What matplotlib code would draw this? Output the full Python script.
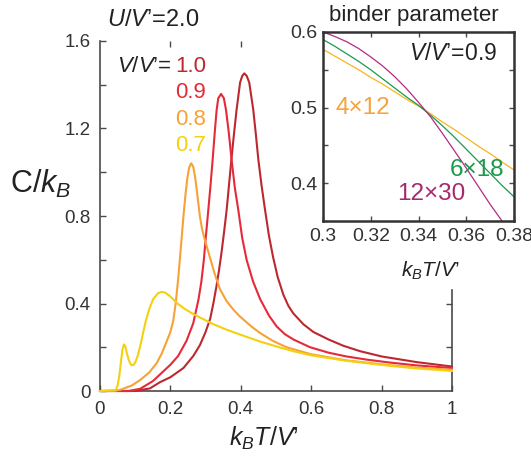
import numpy as np
import matplotlib
matplotlib.use("Agg")
import matplotlib.pyplot as plt

plt.rcParams['font.family'] = 'Liberation Sans'
plt.rcParams['mathtext.fontset'] = 'custom'
plt.rcParams['mathtext.rm'] = 'Liberation Sans'
plt.rcParams['mathtext.it'] = 'Liberation Sans:italic'
plt.rcParams['mathtext.bf'] = 'Liberation Sans:bold'

# specific heat, main panel
T_10 = [0, 0.10, 0.142, 0.17, 0.20, 0.237, 0.265, 0.284, 0.30, 0.313, 0.322, 0.331, 0.338, 0.345,
        0.352, 0.36, 0.367, 0.374, 0.381, 0.388, 0.398, 0.404, 0.41, 0.417, 0.424, 0.4355, 0.443,
        0.45, 0.459, 0.469, 0.48, 0.492, 0.505, 0.521, 0.535, 0.549, 0.578, 0.606, 0.65, 0.691,
        0.739, 0.80, 0.90, 1.0]
C_10 = [0, 0, 0.012, 0.04, 0.063, 0.105, 0.16, 0.21, 0.27, 0.33, 0.40, 0.48, 0.55, 0.63,
        0.72, 0.83, 0.95, 1.07, 1.18, 1.285, 1.41, 1.44, 1.452, 1.44, 1.41, 1.285, 1.17,
        1.056, 0.94, 0.827, 0.71, 0.61, 0.52, 0.44, 0.39, 0.355, 0.305, 0.27, 0.235, 0.207,
        0.182, 0.158, 0.132, 0.112]

T_09 = [0, 0.08, 0.114, 0.15, 0.17, 0.20, 0.222, 0.246, 0.265, 0.28, 0.288, 0.295, 0.301, 0.3077,
        0.314, 0.32, 0.3264, 0.3314, 0.336, 0.344, 0.352, 0.358, 0.366, 0.374, 0.383, 0.393,
        0.404, 0.4167, 0.435, 0.455, 0.48, 0.502, 0.525, 0.55, 0.597, 0.65, 0.70, 0.76, 0.824,
        0.90, 1.0]
C_09 = [0, 0, 0.01, 0.045, 0.075, 0.12, 0.16, 0.23, 0.31, 0.42, 0.50, 0.599, 0.71, 0.827,
        0.94, 1.056, 1.19, 1.285, 1.338, 1.358, 1.338, 1.285, 1.18, 1.056, 0.93, 0.827,
        0.70, 0.599, 0.50, 0.42, 0.345, 0.295, 0.26, 0.235, 0.20, 0.175, 0.158, 0.143, 0.13,
        0.117, 0.105]

T_08 = [0, 0.04, 0.057, 0.09, 0.114, 0.14, 0.161, 0.175, 0.189, 0.20, 0.208, 0.215, 0.222, 0.23,
        0.237, 0.243, 0.248, 0.253, 0.259, 0.265, 0.271, 0.277, 0.284, 0.29, 0.298, 0.308, 0.325,
        0.341, 0.36, 0.38, 0.398, 0.43, 0.455, 0.49, 0.53, 0.60, 0.70, 0.824, 0.90, 1.0]
C_08 = [0, 0, 0.005, 0.025, 0.05, 0.085, 0.127, 0.17, 0.225, 0.27, 0.32, 0.40, 0.51, 0.66,
        0.797, 0.90, 0.97, 1.02, 1.041, 1.025, 0.97, 0.89, 0.797, 0.74, 0.69, 0.635, 0.54,
        0.465, 0.41, 0.37, 0.34, 0.295, 0.265, 0.23, 0.20, 0.168, 0.14, 0.118, 0.107, 0.097]

T_07 = [0, 0.045, 0.05, 0.055, 0.06, 0.064, 0.068, 0.072, 0.076, 0.082, 0.088, 0.094, 0.10, 0.107,
        0.115, 0.123, 0.13, 0.14, 0.151, 0.165, 0.175, 0.185, 0.20, 0.218, 0.24, 0.265, 0.284,
        0.32, 0.36, 0.40, 0.455, 0.511, 0.549, 0.60, 0.70, 0.824, 0.90, 1.0]
C_07 = [0, 0.005, 0.025, 0.07, 0.14, 0.19, 0.213, 0.205, 0.175, 0.14, 0.12, 0.118, 0.13, 0.16,
        0.21, 0.27, 0.32, 0.375, 0.42, 0.447, 0.453, 0.45, 0.432, 0.403, 0.376, 0.352, 0.336,
        0.307, 0.28, 0.257, 0.226, 0.199, 0.182, 0.163, 0.138, 0.115, 0.103, 0.092]

main_series = [(T_10, C_10, '1.0', '#bd2830'),
               (T_09, C_09, '0.9', '#e52a3a'),
               (T_08, C_08, '0.8', '#f6a236'),
               (T_07, C_07, '0.7', '#f5d010')]

# binder parameter, inset
Tb = [0.30, 0.305, 0.31, 0.315, 0.32, 0.325, 0.33, 0.335, 0.34, 0.345, 0.35, 0.355, 0.36,
      0.365, 0.37, 0.375, 0.38]
B_4x12 = [0.577, 0.568, 0.559, 0.550, 0.540, 0.531, 0.521, 0.511, 0.502, 0.492, 0.481, 0.471,
          0.460, 0.449, 0.439, 0.428, 0.4175]
B_6x18 = [0.590, 0.581, 0.571, 0.561, 0.550, 0.538, 0.526, 0.514, 0.503, 0.490, 0.476, 0.461,
          0.445, 0.429, 0.413, 0.397, 0.382]
B_12x30 = [0.600, 0.594, 0.587, 0.578, 0.567, 0.555, 0.541, 0.525, 0.507, 0.488, 0.466, 0.443,
           0.420, 0.396, 0.372, 0.350, 0.328]

inset_series = [(B_4x12, '4×12', '#f7b51e', '#f5a33a', 0.3165, 0.4915),
                (B_6x18, '6×18', '#1a9a4e', '#1a9a4e', 0.3647, 0.4095),
                (B_12x30, '12×30', '#b52a86', '#a8286e', 0.3454, 0.3778)]

spine_col = '#4a4a4a'
txt_col = '#333333'

fig = plt.figure(figsize=(5.31, 4.57), dpi=100)

# ---- main panel ----
ax = fig.add_axes([0.1883, 0.1444, 0.6629, 0.7659])
for T, C, lab, col in main_series:
    ax.plot(T, C, color=col, lw=1.5, clip_on=False, zorder=3)

ax.set_xlim(0, 1)
ax.set_ylim(0, 1.6)
ax.set_xticks([0, 0.2, 0.4, 0.6, 0.8, 1.0])
ax.set_xticklabels(['0', '0.2', '0.4', '0.6', '0.8', '1'])
ax.set_yticks([0, 0.4, 0.8, 1.2, 1.6])
ax.set_yticklabels(['0', '0.4', '0.8', '1.2', '1.6'])
ax.set_yticks([0.2, 0.6, 1.0, 1.4], minor=True)
ax.tick_params(which='both', direction='in', length=4, width=1.0, color=spine_col,
               labelsize=13.5, labelcolor=txt_col)
ax.tick_params(axis='x', pad=7)
ax.tick_params(axis='y', pad=7)
ax.spines['top'].set_visible(False)
ax.spines['right'].set_bounds(0, 0.46)
for s in ['left', 'bottom', 'right']:
    ax.spines[s].set_color(spine_col)
    ax.spines[s].set_linewidth(1.2)

top = ax.secondary_xaxis('top')
top.set_xticks([0.2, 0.4])
top.set_xticklabels([])
top.tick_params(direction='in', length=4, width=1.0, color=spine_col)
top.spines['top'].set_visible(False)

right = ax.secondary_yaxis('right')
right.set_yticks([0.2, 0.4])
right.set_yticklabels([])
right.tick_params(direction='in', length=4, width=1.0, color=spine_col)
right.spines['right'].set_visible(False)

ax.text(0.2045, 1.46, r'$V/V$’=', ha='right', va='baseline', fontsize=16, color='#222222')
label_y = [1.46, 1.338, 1.216, 1.097]
for (T, C, lab, col), yy in zip(main_series, label_y):
    ax.text(0.213, yy, lab, ha='left', va='baseline', fontsize=16, color=col)

fig.text(107 / 531, 1 - 26 / 457, r'$U/V$’=2.0', ha='left', va='baseline', fontsize=17,
         color='#222222')
fig.text(41 / 531, 1 - 184 / 457, r'$\mathrm{C}/k_B$', ha='center', va='center', fontsize=22,
         color='#222222')
fig.text(264 / 531, 1 - 446 / 457, r'$k_BT/V$’', ha='center', va='baseline', fontsize=18,
         color='#222222')

# ---- inset ----
ins = fig.add_axes([0.6083, 0.5164, 0.3597, 0.4136])
ins.set_facecolor('white')
for B, lab, lcol, tcol, tx, ty in inset_series:
    ins.plot(Tb, B, color=lcol, lw=0.9)
    ins.text(tx, ty, lab, ha='center', va='baseline', fontsize=17.5, color=tcol)

ins.set_xlim(0.3, 0.38)
ins.set_ylim(0.35, 0.6)
ins.set_xticks([0.3, 0.32, 0.34, 0.36, 0.38])
ins.set_xticklabels(['0.3', '0.32', '0.34', '0.36', '0.38'])
ins.set_yticks([0.4, 0.5, 0.6])
ins.set_yticklabels(['0.4', '0.5', '0.6'])
ins.set_yticks([0.35, 0.45, 0.55], minor=True)
ins.tick_params(which='both', direction='in', length=3.5, width=1.0, color=spine_col,
                labelsize=14, labelcolor=txt_col, top=True, right=True)
ins.tick_params(axis='x', pad=5)
ins.tick_params(axis='y', pad=4)
for s in ins.spines.values():
    s.set_color('#333333')
    s.set_linewidth(1.8)

ins.text(0.3729, 0.563, r'$V/V$’=0.9', ha='right', va='baseline', fontsize=16.5, color='#222222')

fig.text(414 / 531, 1 - 20.5 / 457, 'binder parameter', ha='center', va='baseline', fontsize=16,
         color='#222222')
fig.text(430 / 531, 1 - 277 / 457, r'$k_BT/V$’', ha='center', va='baseline', fontsize=15,
         color='#222222')

fig.savefig('out.png', dpi=100, facecolor='white')
